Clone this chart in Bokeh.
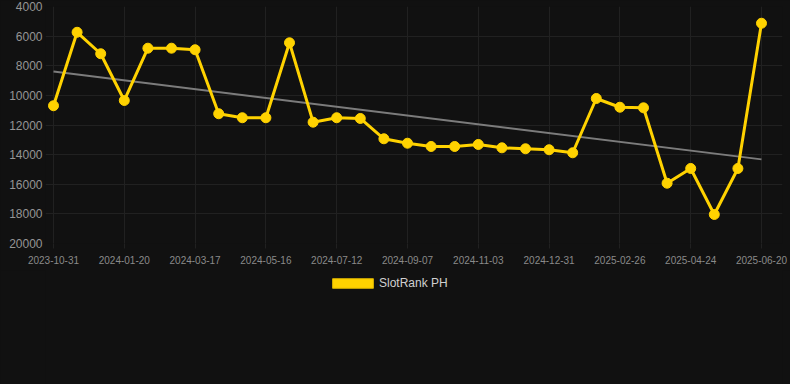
import numpy as np
from bokeh.plotting import figure
from bokeh.layouts import column
from bokeh.models import Range1d, FixedTicker, Legend, LegendItem, ColumnDataSource
from bokeh.embed import file_html
from bokeh.resources import INLINE

# ---- data ----
series_name = "SlotRank PH"
tick_labels = ["2023-10-31", "2024-01-20", "2024-03-17", "2024-05-16", "2024-07-12",
               "2024-09-07", "2024-11-03", "2024-12-31", "2025-02-26", "2025-04-24",
               "2025-06-20"]
ranks = [10700, 5740, 7190, 10345, 6815, 6815, 6920, 11240, 11510, 11510,
         6450, 11810, 11510, 11560, 12930, 13230, 13450, 13450, 13315, 13540,
         13605, 13670, 13875, 10210, 10800, 10840, 15930, 14935, 18040, 14935,
         5130]
y_ticks = [4000, 6000, 8000, 10000, 12000, 14000, 16000, 18000, 20000]
label_every = 3

idx = list(range(len(ranks)))
tick_pos = idx[::label_every]

slope, intercept = np.polyfit(idx, ranks, 1)
trend_x = [idx[0], idx[-1]]
trend_y = [intercept + slope * idx[0], intercept + slope * idx[-1]]

BG = "#111111"
GRID = "#212121"
YELLOW = "#FFD200"
FONT = "Liberation Sans"

p = figure(width=790, height=270, output_backend="svg", toolbar_location=None,
           x_range=Range1d(-0.339, 30.89), y_range=Range1d(20000, 4000),
           background_fill_alpha=0, border_fill_color=BG,
           min_border_left=45, min_border_right=8, min_border_top=6,
           min_border_bottom=27, styles={"background-color": BG})
p.outline_line_color = None

p.xaxis.ticker = FixedTicker(ticks=tick_pos)
p.xaxis.major_label_overrides = {pos: lab for pos, lab in zip(tick_pos, tick_labels)}
p.yaxis.ticker = FixedTicker(ticks=y_ticks)

for ax in (p.xaxis[0], p.yaxis[0]):
    ax.axis_line_color = None
    ax.minor_tick_line_color = None
    ax.major_label_text_font = FONT
ax = p.xaxis[0]
ax.major_tick_line_color = GRID
ax.major_tick_out = 5
ax.major_tick_in = 0
ax.major_label_standoff = 7
ax.major_label_text_font_size = "10px"
ax.major_label_text_color = "#8a8a8a"
ay = p.yaxis[0]
ay.major_tick_line_color = None
ay.major_tick_out = 0
ay.major_tick_in = 0
ay.major_label_standoff = 3
ay.major_label_text_font_size = "12px"
ay.major_label_text_color = "#959595"

p.xgrid.grid_line_color = GRID
p.ygrid.grid_line_color = GRID

src = ColumnDataSource(dict(x=idx, y=ranks))
p.line(trend_x, trend_y, line_color="#7c7c7c", line_width=2)
p.line("x", "y", source=src, line_color=YELLOW, line_width=3)
p.scatter("x", "y", source=src, size=10, fill_color=YELLOW, line_color=YELLOW)

# legend strip below the chart
q = figure(width=790, height=114, output_backend="svg", toolbar_location=None,
           x_range=Range1d(0, 1), y_range=Range1d(0, 1),
           x_axis_location=None, y_axis_location=None,
           background_fill_alpha=0, border_fill_color=BG,
           min_border_left=45, min_border_right=8, min_border_top=0,
           min_border_bottom=0, styles={"background-color": BG})
q.outline_line_color = None
q.xgrid.visible = False
q.ygrid.visible = False
leg_src = ColumnDataSource(dict(l=[-5], r=[-4], t=[-4], b=[-5]))
leg_r = q.quad(left="l", right="r", top="t", bottom="b", source=leg_src,
               fill_color=YELLOW, line_color="#d9b200")
legend = Legend(items=[LegendItem(label=series_name, renderers=[leg_r])],
                location=(282, 94), orientation="horizontal",
                glyph_width=51, glyph_height=12, label_standoff=1,
                label_text_font=FONT, label_text_font_size="12px",
                label_text_color="#d0d0d0", background_fill_alpha=0,
                border_line_alpha=0, padding=0, margin=0)
q.add_layout(legend, "center")

layout = column(p, q, spacing=0, styles={"background-color": BG})
open("out.html", "w").write(file_html(layout, INLINE))
